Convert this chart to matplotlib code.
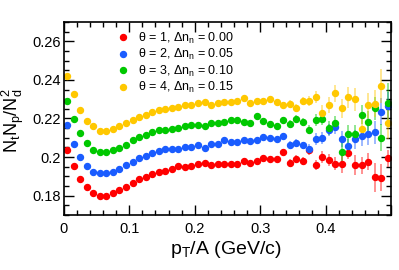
import numpy as np
import matplotlib
matplotlib.use("Agg")
import matplotlib.pyplot as plt
from matplotlib.lines import Line2D
from matplotlib.ticker import MultipleLocator, FuncFormatter

plt.rcParams['font.family'] = ['Liberation Sans', 'DejaVu Sans']
plt.rcParams['mathtext.default'] = 'regular'

# bin centres in pT/A
pt = np.arange(50) * 0.01 + 0.005

ratio_t1 = [0.2039, 0.1951, 0.1886, 0.1843, 0.1812, 0.1800, 0.1800, 0.1812, 0.1831, 0.1846,
            0.1865, 0.1886, 0.1899, 0.1911, 0.1923, 0.1927, 0.1937, 0.1951, 0.1946, 0.1954,
            0.1966, 0.1968, 0.1957, 0.1966, 0.1966, 0.1966, 0.1966, 0.1980, 0.1971, 0.1980,
            0.1997, 0.1992, 0.1988, 0.2026, 0.1971, 0.1992, 0.1980, 0.2034, 0.1959, 0.2000,
            0.1986, 0.1966, 0.1963, 0.2023, 0.1959, 0.1957, 0.1976, 0.1895, 0.1893, 0.1993]
ratio_t2 = [0.2164, 0.2070, 0.2002, 0.1954, 0.1925, 0.1915, 0.1915, 0.1925, 0.1940, 0.1957,
            0.1976, 0.1993, 0.2007, 0.2021, 0.2031, 0.2041, 0.2043, 0.2043, 0.2053, 0.2053,
            0.2064, 0.2048, 0.2069, 0.2070, 0.2086, 0.2077, 0.2077, 0.2086, 0.2081, 0.2086,
            0.2105, 0.2100, 0.2091, 0.2108, 0.2065, 0.2075, 0.2060, 0.2044, 0.2094, 0.2098,
            0.2140, 0.2157, 0.2094, 0.2056, 0.2091, 0.2108, 0.2120, 0.2128, 0.2236, 0.2265]
ratio_t3 = [0.2292, 0.2197, 0.2125, 0.2074, 0.2039, 0.2028, 0.2028, 0.2036, 0.2048, 0.2065,
            0.2086, 0.2105, 0.2116, 0.2128, 0.2138, 0.2142, 0.2146, 0.2151, 0.2159, 0.2164,
            0.2164, 0.2160, 0.2176, 0.2176, 0.2180, 0.2193, 0.2190, 0.2180, 0.2176, 0.2215,
            0.2185, 0.2172, 0.2159, 0.2190, 0.2172, 0.2198, 0.2182, 0.2142, 0.2193, 0.2196,
            0.2150, 0.2178, 0.2026, 0.2120, 0.2122, 0.2219, 0.2180, 0.2253, 0.2099, 0.2282]
ratio_t4 = [0.2419, 0.2326, 0.2245, 0.2185, 0.2159, 0.2137, 0.2137, 0.2146, 0.2163, 0.2176,
            0.2193, 0.2210, 0.2219, 0.2231, 0.2245, 0.2250, 0.2253, 0.2258, 0.2270, 0.2270,
            0.2279, 0.2287, 0.2270, 0.2279, 0.2287, 0.2287, 0.2292, 0.2305, 0.2279, 0.2292,
            0.2292, 0.2302, 0.2287, 0.2270, 0.2277, 0.2253, 0.2290, 0.2291, 0.2310, 0.2228,
            0.2270, 0.2330, 0.2253, 0.2310, 0.2299, 0.2145, 0.2268, 0.2277, 0.2368, 0.2176]

# statistical errors (half length)
err_t1 = [0.0005] * 25 + [0.0008] * 5 + [0.0012, 0.0012, 0.0015, 0.0015, 0.0018, 0.002, 0.002, 0.0022,
          0.0028, 0.003, 0.003, 0.0033, 0.0045, 0.0035, 0.005, 0.0045, 0.0045, 0.0075, 0.007, 0.0045]
err_t2 = [0.0005] * 25 + [0.0008] * 5 + [0.0012, 0.0012, 0.0015, 0.0015, 0.0018, 0.002, 0.002, 0.0022,
          0.003, 0.003, 0.003, 0.0035, 0.004, 0.004, 0.005, 0.005, 0.0055, 0.006, 0.007, 0.007]
err_t3 = [0.0005] * 25 + [0.0008] * 5 + [0.0012, 0.0012, 0.0015, 0.0015, 0.0018, 0.002, 0.002, 0.0025,
          0.003, 0.003, 0.0035, 0.0035, 0.0055, 0.0045, 0.0045, 0.005, 0.006, 0.006, 0.007, 0.01]
err_t4 = [0.0005] * 25 + [0.0008] * 5 + [0.0012, 0.0012, 0.0015, 0.0015, 0.0018, 0.002, 0.002, 0.0025,
          0.003, 0.004, 0.004, 0.0045, 0.005, 0.0055, 0.006, 0.0055, 0.0065, 0.007, 0.009, 0.008]

labels = [r'$\theta$ = 1, $\Delta n_{n}$ = 0.00',
          r'$\theta$ = 2, $\Delta n_{n}$ = 0.05',
          r'$\theta$ = 3, $\Delta n_{n}$ = 0.10',
          r'$\theta$ = 4, $\Delta n_{n}$ = 0.15']
colors = ['#ff0000', '#1a5cff', '#00c800', '#ffc800']

fig = plt.figure(figsize=(3.99, 2.70), dpi=100)
ax = fig.add_axes([0.160, 0.204, 0.820, 0.7145])

series = [ratio_t1, ratio_t2, ratio_t3, ratio_t4]
errs = [err_t1, err_t2, err_t3, err_t4]
for y, e, c in zip(series, errs, colors):
    eb = ax.errorbar(pt, y, yerr=e, xerr=0.004, fmt='o', color=c, ms=4.3,
                     mec=c, elinewidth=1.2, capsize=0)
    for coll in eb[2]:
        coll.set_alpha(0.5)

ax.set_xlim(0, 0.5)
ax.set_ylim(0.17, 0.27)

ax.xaxis.set_major_locator(MultipleLocator(0.1))
ax.xaxis.set_minor_locator(MultipleLocator(0.02))
ax.yaxis.set_major_locator(MultipleLocator(0.02))
ax.yaxis.set_minor_locator(MultipleLocator(0.005))


def tick_fmt(v, p):
    if abs(v) < 1e-9:
        return '0'
    if abs(v - 0.5) < 1e-9:
        return ''  # last label hidden, as in the original
    return '%g' % round(v, 3)


ax.xaxis.set_major_formatter(FuncFormatter(tick_fmt))
ax.yaxis.set_major_formatter(FuncFormatter(tick_fmt))

ax.tick_params(which='both', direction='in', top=True, right=True, labelsize=10.5, width=1)
ax.tick_params(which='major', length=7)
ax.tick_params(which='minor', length=3.5)
ax.tick_params(axis='x', pad=5)
ax.tick_params(axis='y', pad=2)
for s in ax.spines.values():
    s.set_linewidth(1.2)

ax.set_xlabel(r'$p_{T}$/A (GeV/c)', fontsize=14)
ax.xaxis.set_label_coords(0.495, -0.125)
ax.set_ylabel(r'$N_{t}N_{p}/N_{d}^{2}$', fontsize=13)
ax.yaxis.set_label_coords(-0.115, 0.49)

handles = [Line2D([], [], marker='o', ls='none', color=c, ms=4.3) for c in colors]
ax.legend(handles, labels, loc='upper left', bbox_to_anchor=(0.14, 0.995), frameon=False,
          fontsize=9, handlelength=1.0, handletextpad=0.7, labelspacing=0.12,
          borderaxespad=0.2)

fig.savefig('out.png', dpi=100)
